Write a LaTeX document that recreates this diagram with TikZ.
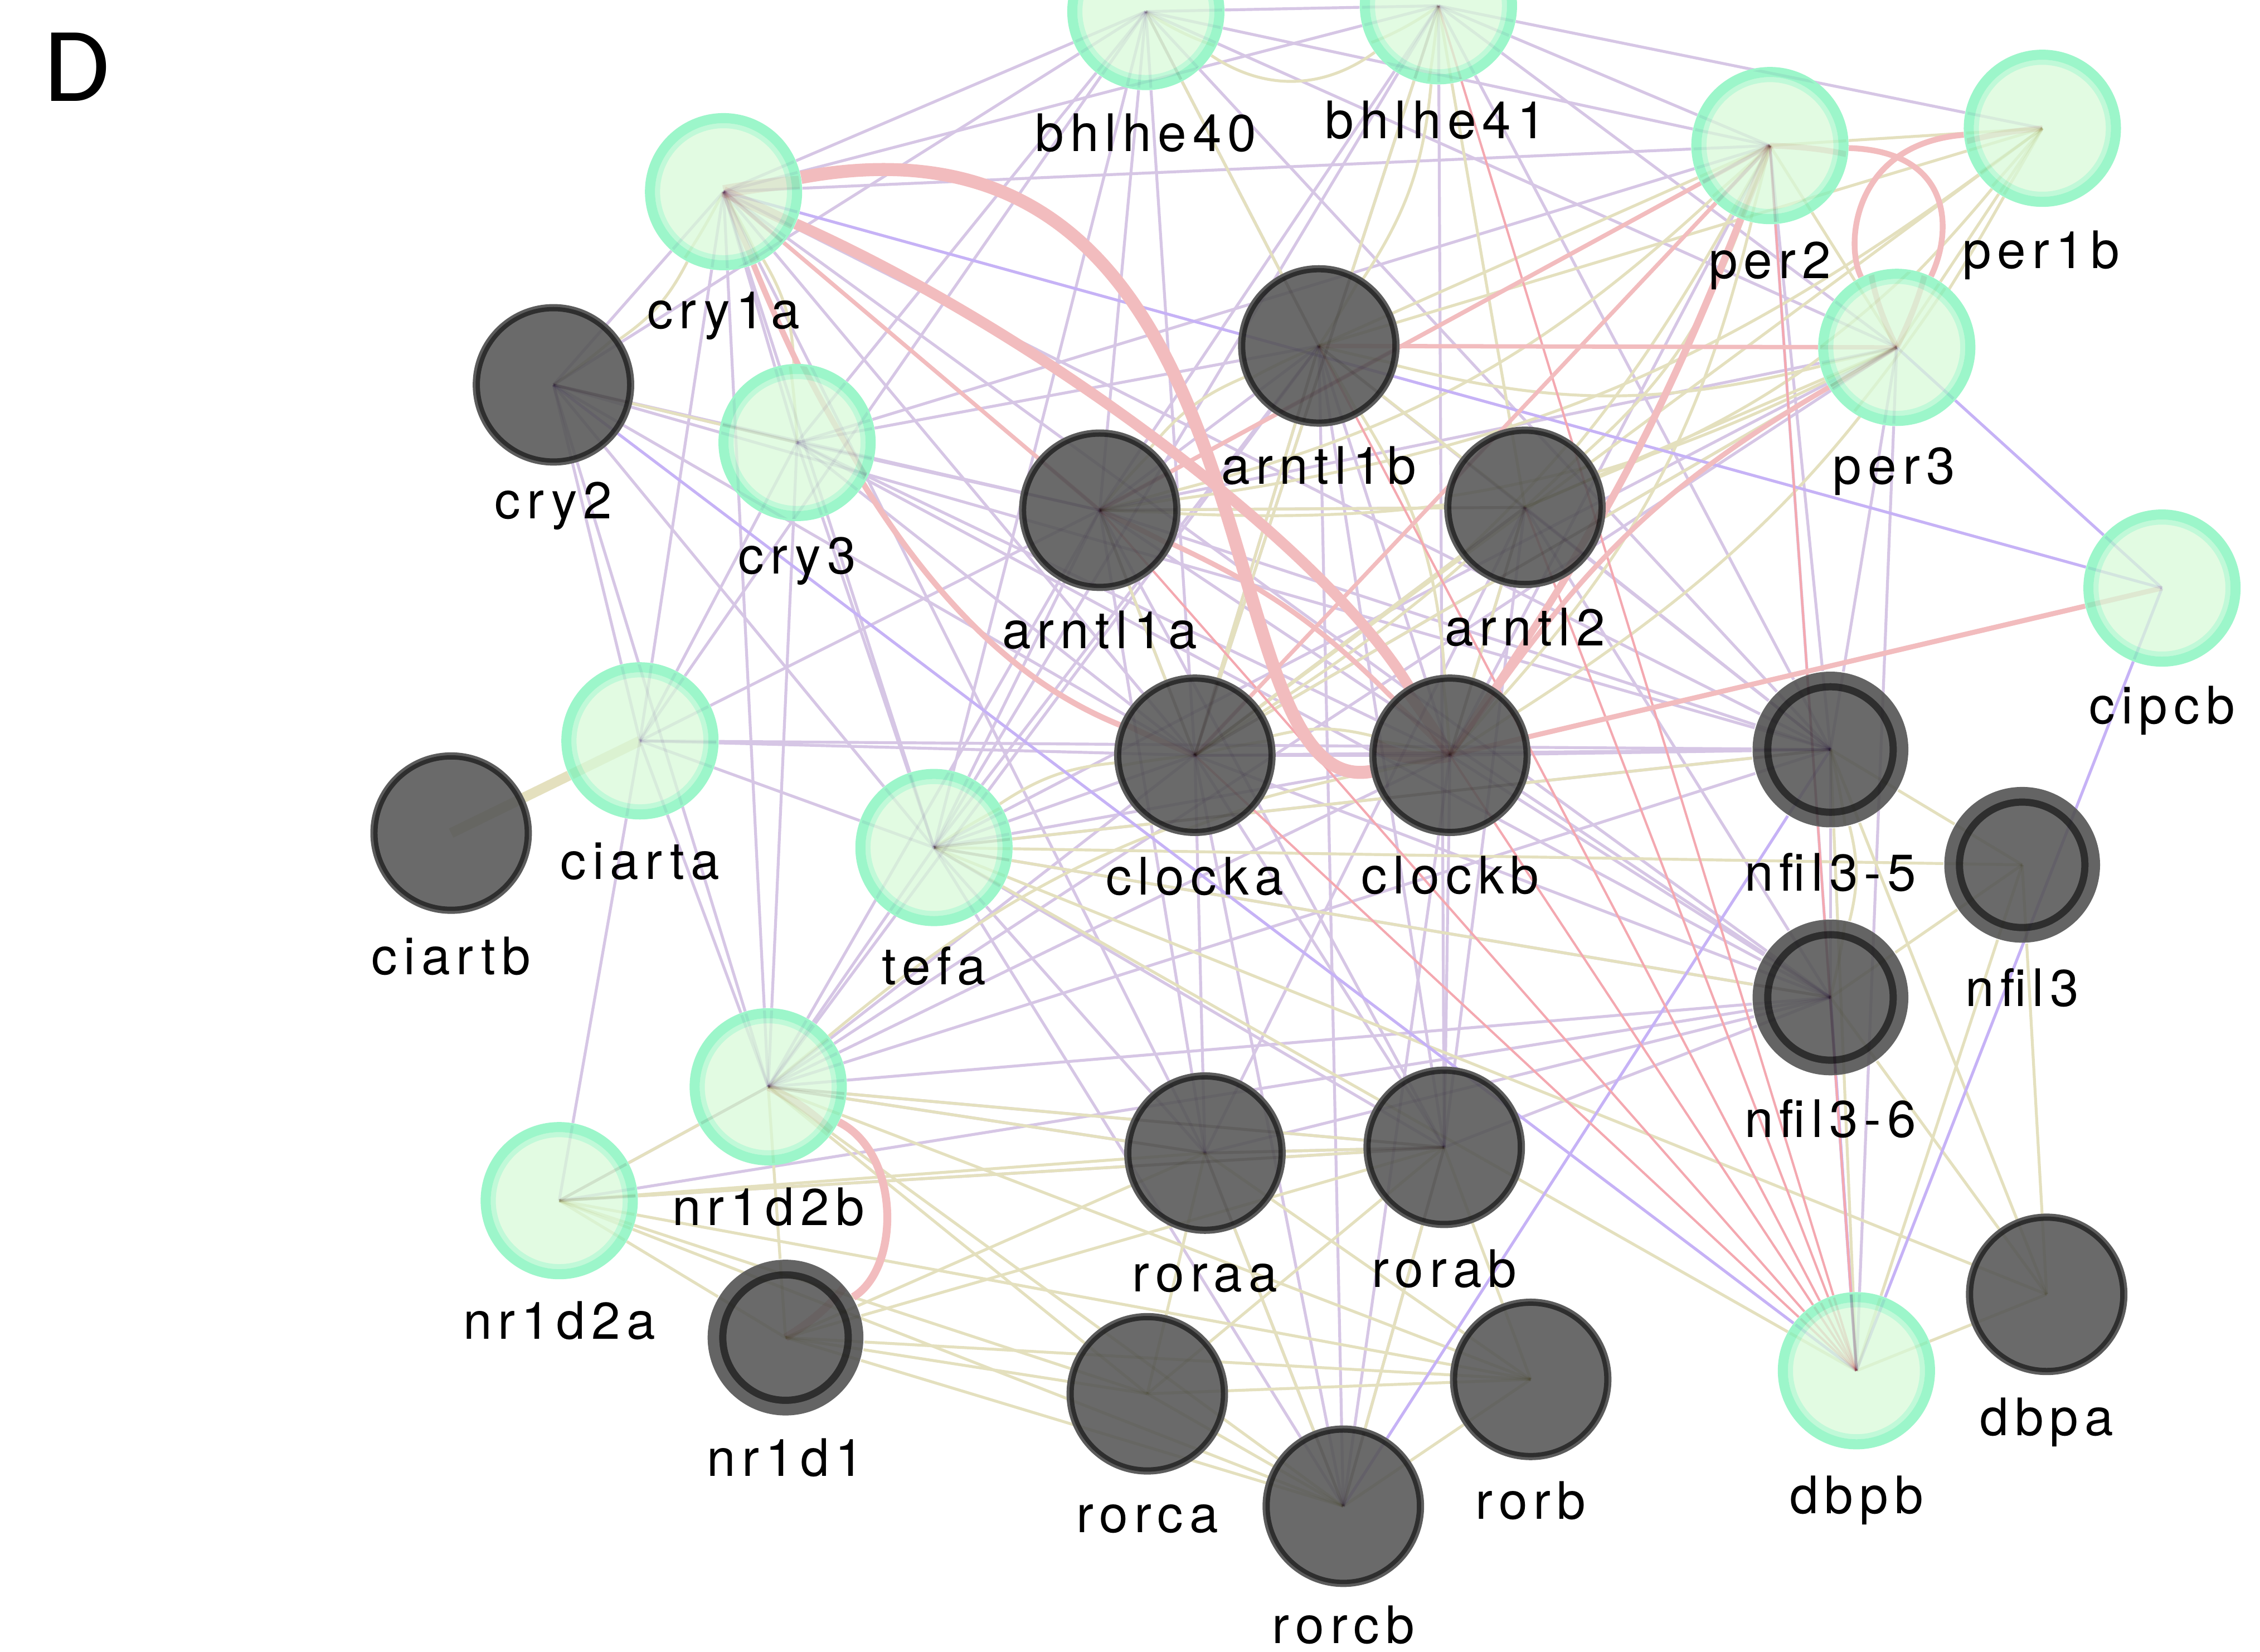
\documentclass[tikz,border=0pt]{standalone}
\usepackage{fontspec}
\newfontfamily\labfont{TeX Gyre Heros}[LetterSpace=12]
\newfontfamily\panelfont{Carlito}
\usetikzlibrary{calc}

% edge colours (network types) and node colours
\definecolor{coex}{RGB}{214,198,229}
\definecolor{pred}{RGB}{198,178,246}
\definecolor{phys}{RGB}{242,188,190}
\definecolor{gen}{RGB}{228,224,190}
\definecolor{pathred}{RGB}{244,168,176}
\definecolor{mint}{RGB}{156,246,202}
\definecolor{mintin}{RGB}{192,249,216}
\definecolor{mintfill}{RGB}{226,251,226}
\definecolor{nodegrey}{RGB}{106,106,106}
\definecolor{ringgrey}{RGB}{100,100,100}
\definecolor{rimdark}{RGB}{46,46,46}
\definecolor{rimhalo}{RGB}{92,92,92}

\tikzset{
  x=0.01cm, y=-0.01cm,
  co/.style={draw=coex, line width=0.02cm},
  pr/.style={draw=pred, line width=0.02cm},
  gi/.style={draw=gen, line width=0.02cm},
  pw/.style={draw=pathred, line width=0.016cm},
  ph/.style={draw=phys, line width=#1},
  ph/.default=0.03cm,
  qnode/.style={circle, minimum size=1.02cm, inner sep=0pt, fill=mintfill,
    draw=mint, line width=0.07cm,
    path picture={\draw[mintin, line width=0.035cm]
      (path picture bounding box.center) circle (0.4575cm);}},
  gnode/.style={circle, minimum size=1.05cm, inner sep=0pt, fill=nodegrey,
    draw=rimdark, line width=0.03cm,
    preaction={draw=rimhalo, line width=0.07cm}},
  bnode/.style={circle, minimum size=1.0cm, inner sep=0pt, fill=nodegrey,
    draw=ringgrey, line width=0.08cm,
    path picture={\draw[rimdark, line width=0.06cm]
      (path picture bounding box.center) circle (0.44cm);}},
  lab/.style={anchor=base, inner sep=0pt, text=black,
    font=\labfont\fontsize{10.2pt}{12pt}\selectfont},
}

% all interaction edges of the network; #1 is appended to every end name
% (-node: stop at the node rim, empty: run to the node centre)
\newcommand\netedges[1]{%
  % co-expression
  \foreach \a/\b in {c1a/b40,c1a/b41,c1a/c2,c1a/c3,c1a/cta,c1a/tef,c1a/r2b,c1a/a1a,c1a/cka,c1a/p2,c1a/n5,c1a/n6,c1a/raa,
    c2/c3,c2/cta,c2/b40,c2/a1a,c2/cka,c2/tef,c2/r2b,c2/n5,
    c3/cta,c3/tef,c3/r2b,c3/a1a,c3/a1b,c3/cka,c3/ckb,c3/b40,c3/n6,c3/p2,
    cta/tef,cta/r2b,cta/r2a,cta/cka,cta/a1a,cta/b40,cta/n5,
    tef/r2b,tef/a1a,tef/a1b,tef/cka,tef/ckb,tef/n5,tef/n6,tef/raa,tef/rcb,tef/p3,tef/b41,tef/b40,tef/rab,
    r2b/r2a,r2b/a1a,r2b/cka,r2b/ckb,r2b/n5,r2b/n6,r2b/raa,r2b/rab,r2b/a1b,r2b/p3,
    r2a/rab,r2a/n6,
    b40/p2,b40/a1b,b40/cka,b40/p3,b40/a1a,b40/n5,b40/b41,
    b41/p2,b41/p3,b41/a1a,b41/rab,b41/cka,b41/n5,b41/p1b,
    p2/n5,p2/a1a,p2/cka,p2/ckb,p2/dbb,
    p3/n5,p3/a1a,p3/cka,p3/dbb,
    a1a/a1b,a1a/a2,a1a/cka,a1a/n5,a1a/n6,a1a/raa,a1a/rab,
    a1b/cka,a1b/ckb,a1b/n5,a1b/rab,a1b/rcb,
    a2/ckb,a2/cka,a2/n5,a2/n6,a2/rab,a2/raa,
    cka/ckb,cka/n5,cka/n6,cka/raa,cka/rab,cka/rcb,
    ckb/n5,ckb/n6,ckb/rab,ckb/rcb,
    n5/n6,n6/dbb,n6/rab,n6/raa,raa/rcb,raa/rab,rab/rcb}
    \draw[co] (\a#1) -- (\b#1);
  % shared protein domains / genetic interactions
  \foreach \a/\b in {c2/c3,p2/p1b,p2/p3,p1b/p3,p1b/a1b,p1b/cka,p2/a1b,p3/cka,p3/a2,
    a1a/a2,a1b/a2,a1a/cka,a1b/cka,a2/cka,a2/ckb,b40/a1b,b41/a2,b41/cka,
    r2b/r2a,r2b/r1,r2a/r1,r2b/raa,r2b/rab,r2b/rca,r2b/rcb,r2b/rb,r2a/raa,r2a/rab,r2a/rca,r2a/rcb,r2a/rb,
    r1/raa,r1/rab,r1/rca,r1/rcb,r1/rb,raa/rab,raa/rca,raa/rcb,raa/rb,rab/rca,rab/rcb,rab/rb,rca/rcb,rca/rb,rcb/rb,
    tef/n5,tef/n3,tef/n6,tef/dbb,tef/dba,n5/n3,n5/dbb,n5/dba,n3/n6,n3/dbb,n3/dba,n6/dba,dbb/dba}
    \draw[gi] (\a#1) -- (\b#1);
  \foreach \a/\b in {c1a/c2,c1a/c3,a1a/a1b,p2/a2,cka/ckb,n5/n6,p1b/a1a,p1b/ckb,p3/a1a,p2/cka,a1b/ckb,r2b/ckb,tef/cka,
    p1b/a2,p3/a1b,p2/ckb,b41/a1b,p2/a1a}
    \draw[gi] (\a#1) to[bend left=14] (\b#1);
  \draw[gi] (b40#1) to[bend right=35] (b41#1);
  \draw[gen, line width=0.07cm] (cta#1) -- (ctb#1);
  % predicted
  \foreach \a/\b in {c1a/cip,p3/cip,cip/dbb,c2/dbb,n6/dbb,rcb/n5}
    \draw[pr] (\a#1) -- (\b#1);
  % pathway
  \foreach \a/\b in {dbb/cka,dbb/a1a,dbb/ckb,dbb/a1b,dbb/a2,dbb/b41,dbb/p2}
    \draw[pw] (\a#1) -- (\b#1);
  % physical interactions
  \draw[ph=0.09cm] (c1a#1) .. controls (900,60) and (830,560) .. (ckb#1);
  \draw[ph=0.075cm] (c1a#1) .. controls (720,230) and (920,380) .. (ckb#1);
  \draw[ph=0.04cm] (c1a#1) .. controls (620,420) and (720,480) .. (cka#1);
  \draw[ph=0.028cm] (c1a#1) -- (a1a#1);
  \draw[ph=0.04cm] (p2#1) .. controls (1355,105) and (1355,160) .. (p3#1);
  \draw[ph=0.04cm] (p1b#1) .. controls (1285,100) and (1280,170) .. (p3#1);
  \draw[ph=0.035cm] (cip#1) -- (ckb#1);
  \draw[ph=0.055cm] (r2b#1) .. controls (625,800) and (625,880) .. (r1#1);
  \draw[ph=0.05cm] (ckb#1) to[bend right=6] (p2#1);
  \draw[ph=0.03cm] (p2#1) -- (a1a#1);
  \draw[ph=0.03cm] (p3#1) -- (a1b#1);
  \draw[ph=0.035cm] (p3#1) to[bend right=12] (ckb#1);
  \draw[ph=0.028cm] (p2#1) -- (cka#1);
  \draw[ph=0.035cm] (a1a#1) to[bend left=10] (ckb#1);
}

\begin{document}
\begin{tikzpicture}
\fill[white] (0,0) rectangle (1568,1146);
\useasboundingbox (0,0) rectangle (1568,1146);

% node positions
\coordinate (b40) at (795,8);
\coordinate (b41) at (998,4);
\coordinate (c1a) at (502,133);
\coordinate (p2) at (1228,101);
\coordinate (p1b) at (1417,89);
\coordinate (p3) at (1316,241);
\coordinate (c2) at (384,267);
\coordinate (c3) at (553,307);
\coordinate (a1b) at (915,240);
\coordinate (a1a) at (763,354);
\coordinate (a2) at (1058,352);
\coordinate (cip) at (1500,408);
\coordinate (cta) at (444,514);
\coordinate (ctb) at (313,578);
\coordinate (tef) at (648,588);
\coordinate (cka) at (829,524);
\coordinate (ckb) at (1006,524);
\coordinate (n5) at (1270,520);
\coordinate (n3) at (1403,600);
\coordinate (n6) at (1270,692);
\coordinate (r2b) at (533,754);
\coordinate (r2a) at (388,833);
\coordinate (r1) at (545,928);
\coordinate (raa) at (836,800);
\coordinate (rab) at (1002,796);
\coordinate (rca) at (796,967);
\coordinate (rcb) at (932,1045);
\coordinate (rb) at (1062,957);
\coordinate (dbb) at (1288,951);
\coordinate (dba) at (1420,898);

% node outlines used as edge ends
\foreach \n in {b40,b41,c1a,p2,p1b,p3,c3,cip,cta,tef,r2b,r2a,dbb,
                c2,a1b,a1a,a2,ctb,cka,ckb,raa,rab,rca,rcb,rb,dba,n5,n3,n6,r1}
  \node[circle, minimum size=1.08cm, inner sep=0pt] (\n-node) at (\n) {};

% edges under the nodes
\netedges{-node}

% visible nodes
\foreach \n in {b40,b41,c1a,p2,p1b,p3,c3,cip,cta,tef,r2b,r2a,dbb}
  \node[qnode] (\n-disc) at (\n) {};
\foreach \n in {c2,a1b,a1a,a2,ctb,cka,ckb,raa,rab,rca,rcb,rb,dba}
  \node[gnode] (\n-disc) at (\n) {};
\foreach \n in {n5,n3,n6,r1}
  \node[bnode] (\n-disc) at (\n) {};

% edges seen faintly through the nodes
\begin{scope}[blend mode=multiply, opacity=0.28]
  \clip (b40) circle (0.53cm) (b41) circle (0.53cm) (c1a) circle (0.53cm) (p2) circle (0.53cm)
        (p1b) circle (0.53cm) (p3) circle (0.53cm) (c3) circle (0.53cm) (cip) circle (0.53cm)
        (cta) circle (0.53cm) (tef) circle (0.53cm) (r2b) circle (0.53cm) (r2a) circle (0.53cm)
        (dbb) circle (0.53cm) (c2) circle (0.53cm) (a1b) circle (0.53cm) (a1a) circle (0.53cm)
        (a2) circle (0.53cm) (ctb) circle (0.53cm) (cka) circle (0.53cm) (ckb) circle (0.53cm)
        (raa) circle (0.53cm) (rab) circle (0.53cm) (rca) circle (0.53cm) (rcb) circle (0.53cm)
        (rb) circle (0.53cm) (dba) circle (0.53cm) (n5) circle (0.53cm) (n3) circle (0.53cm)
        (n6) circle (0.53cm) (r1) circle (0.53cm);
  \netedges{}
\end{scope}

% gene labels
\node[lab] (b40-lab) at (795,105) {bhlhe40};
\node[lab] (b41-lab) at (996,96) {bhlhe41};
\node[lab] (c1a-lab) at (502,228) {cry1a};
\node[lab] (p2-lab) at (1228,193) {per2};
\node[lab] (p1b-lab) at (1416,186) {per1b};
\node[lab] (p3-lab) at (1314,336) {per3};
\node[lab] (c2-lab) at (384,360) {cry2};
\node[lab] (c3-lab) at (553,398) {cry3};
\node[lab] (a1b-lab) at (915,336) {arntl1b};
\node[lab] (a1a-lab) at (763,450) {arntl1a};
\node[lab] (a2-lab) at (1058,448) {arntl2};
\node[lab] (cip-lab) at (1500,502) {cipcb};
\node[lab] (cta-lab) at (444,610) {ciarta};
\node[lab] (ctb-lab) at (313,676) {ciartb};
\node[lab] (tef-lab) at (648,683) {tefa};
\node[lab] (cka-lab) at (829,621) {clocka};
\node[lab] (ckb-lab) at (1006,620) {clockb};
\node[lab] (n5-lab) at (1270,618) {nfil3-5};
\node[lab] (n3-lab) at (1403,698) {nfil3};
\node[lab] (n6-lab) at (1270,789) {nfil3-6};
\node[lab] (r2b-lab) at (533,850) {nr1d2b};
\node[lab] (r2a-lab) at (388,929) {nr1d2a};
\node[lab] (r1-lab) at (545,1024) {nr1d1};
\node[lab] (raa-lab) at (836,896) {roraa};
\node[lab] (rab-lab) at (1002,893) {rorab};
\node[lab] (rca-lab) at (796,1063) {rorca};
\node[lab] (rcb-lab) at (932,1140) {rorcb};
\node[lab] (rb-lab) at (1062,1054) {rorb};
\node[lab] (dbb-lab) at (1288,1050) {dbpb};
\node[lab] (dba-lab) at (1420,996) {dbpa};

% panel letter
\node[anchor=base west, inner sep=0pt, font=\panelfont\fontsize{21pt}{24pt}\selectfont] (panel) at (30,70) {D};
\end{tikzpicture}
\end{document}
